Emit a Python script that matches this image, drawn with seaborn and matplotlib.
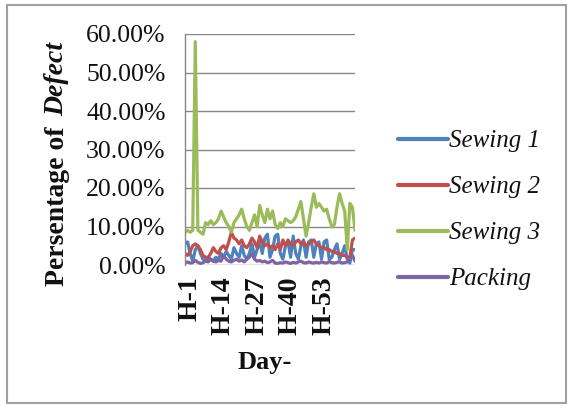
import numpy as np
import pandas as pd
import seaborn as sns
import matplotlib
matplotlib.use("Agg")
import matplotlib.pyplot as plt
import matplotlib.transforms as mtransforms
from matplotlib.patches import Rectangle
from matplotlib.ticker import FuncFormatter

# Daily defect percentages, day H-1 .. H-67
days = [f"H-{i}" for i in range(1, 68)]

sewing_1 = [5.5, 6, 3, 1, 4, 5, 3, 1.5, 1, 2, 1.5, 1, 2, 1.5, 3, 2, 3.5, 2.5, 1.5, 4.5,
            3, 2, 5, 2.5, 1.5, 3, 5.5, 2, 4, 6, 3, 7, 8, 2, 4, 7.5, 8, 3, 1.5, 5,
            6, 2, 7.5, 3, 1.5, 5, 6.5, 2, 6, 6.5, 2, 5.5, 6, 1.5, 6, 6.5, 1.5, 2, 4, 5.5,
            1.5, 3, 5, 1.5, 0.5, 4, 4]
sewing_2 = [3, 2.5, 3.5, 5, 5.5, 5, 4, 2.5, 2, 2, 3, 4.5, 3.5, 3, 4.5, 5, 4, 6, 8.5, 7,
            6.5, 5.5, 6.5, 5, 4.5, 5.5, 7, 6, 4.5, 7.5, 6, 5, 5.5, 4.5, 5, 4, 5.5, 4, 6.5, 5,
            6.5, 5.5, 5, 6, 6.5, 5.5, 6, 5, 5.5, 6, 6.5, 5.5, 5, 4.5, 4.5, 4, 4, 3.5, 3.5, 3,
            3, 2.5, 2.5, 2, 2, 6.5, 7]
sewing_3 = [8.5, 9.0, 8.5, 9.0, 58.0, 9.0, 8.5, 8.0, 11.0, 10.5, 11.5, 10.5, 11.0, 12.0,
            14.0, 12.5, 11.0, 10.0, 8.5, 11.0, 12.0, 13.0, 14.5, 12.0, 10.0, 9.0, 11.0,
            13.0, 10.0, 15.5, 13.0, 11.0, 14.5, 12.0, 14.0, 10.5, 9.5, 11.0, 10.0, 12.0,
            11.5, 11.0, 11.5, 12.5, 14.5, 16.5, 12.0, 7.5, 11.0, 15.0, 18.5, 15.0, 16.0,
            15.0, 14.0, 14.5, 12.0, 10.0, 10.5, 15.0, 18.5, 16.0, 14.0, 4.0, 16.0, 15.0, 9.0]
packing = [0.5, 0.8, 0.5, 0.6, 1.2, 0.7, 0.4, 0.6, 1.0, 0.8, 1.5, 1.0, 0.8, 1.2, 1.0,
           2.5, 1.5, 1.0, 0.8, 1.2, 1.5, 1.0, 1.3, 0.8, 1.5, 2.0, 3.0, 1.5, 1.0, 1.2,
           0.8, 1.0, 0.6, 0.8, 1.2, 0.5, 0.4, 0.6, 0.5, 0.8, 0.6, 0.4, 0.7, 0.5, 0.8,
           1.0, 0.6, 0.5, 0.8, 0.6, 0.5, 0.7, 0.5, 0.8, 0.6, 0.5, 0.9, 0.6, 0.5, 0.7,
           0.8, 0.5, 0.6, 0.8, 1.5, 2.5, 1.0]

series_names = ["Sewing 1", "Sewing 2", "Sewing 3", "Packing"]
series_values = [sewing_1, sewing_2, sewing_3, packing]
colors = ["#4f81bd", "#c0504d", "#9bbb59", "#8064a2"]
tick_days = ["H-1", "H-14", "H-27", "H-40", "H-53"]
y_ticks = [0, 10, 20, 30, 40, 50, 60]

df = pd.concat(
    [pd.DataFrame({"idx": np.arange(len(days)), "day": days, "value": v, "line": n})
     for n, v in zip(series_names, series_values)],
    ignore_index=True,
)

sns.set_theme(style="white")
plt.rcParams["font.family"] = ["Liberation Serif", "DejaVu Serif"]

W, H = 573, 408
fig = plt.figure(figsize=(W / 100, H / 100), dpi=100)
fig.patch.set_facecolor("white")
ax = fig.add_axes([185 / W, 1 - 265 / H, 170 / W, 231 / H])

sns.lineplot(data=df, x="idx", y="value", hue="line", hue_order=series_names,
             palette=colors, linewidth=2.3, ax=ax, legend=True)

ax.set_xlim(0, len(days) - 1)
ax.set_ylim(0, 60)
ax.set_yticks(y_ticks)
ax.yaxis.set_major_formatter(FuncFormatter(lambda v, p: f"{v:.2f}%"))
ax.grid(axis="y", color="#888888", linewidth=1.0)
ax.set_axisbelow(True)
ax.tick_params(axis="y", labelsize=18.5, pad=14, length=0, colors="#111111")
ax.set_xticks([days.index(d) for d in tick_days])
ax.set_xticklabels(tick_days, rotation=90, fontsize=20, fontweight="bold",
                   va="top", ha="center")
ax.tick_params(axis="x", pad=8, length=0, colors="#111111")
shift = mtransforms.ScaledTranslation(5 / 100, 0, fig.dpi_scale_trans)
for lbl in ax.get_xticklabels():
    lbl.set_transform(lbl.get_transform() + shift)
for side in ["top", "right", "bottom"]:
    ax.spines[side].set_visible(False)
ax.spines["left"].set_color("#888888")
ax.spines["left"].set_linewidth(1.0)

ax.set_xlabel("")
ax.set_ylabel("")
fig.text(265 / W, 1 - 362 / H, "Day-", fontsize=19, fontweight="bold",
         ha="center", va="center", color="#111111")

# Y-axis title: bold text followed by a bold-italic word
fig.canvas.draw()
renderer = fig.canvas.get_renderer()
t1 = fig.text(57 / W, 1 - 286 / H, "Persentage of ", fontsize=20, fontweight="bold",
              rotation=90, ha="center", va="bottom", color="#111111")
bb = t1.get_window_extent(renderer)
t2 = fig.text(57 / W, (bb.y1 + 4) / H, "Defect", fontsize=20, fontweight="bold",
              fontstyle="italic", rotation=90, ha="center", va="bottom", color="#111111")

handles, labels = ax.get_legend_handles_labels()
for h in handles:
    h.set_linewidth(3)
leg = ax.legend(handles, labels, loc="center left", bbox_to_anchor=(375 / W, 1 - 210 / H),
                bbox_transform=fig.transFigure, frameon=False, handlelength=2.0,
                handletextpad=0.05, labelspacing=0.94,
                prop={"family": "Liberation Serif", "style": "italic", "size": 18})
for t in leg.get_texts():
    t.set_color("#111111")

fig.patches.append(Rectangle((7 / W, 1 - 403 / H), 559 / W, 398 / H, fill=False,
                             edgecolor="#a0a0a0", linewidth=1.5,
                             transform=fig.transFigure, figure=fig))

fig.savefig("out.png", dpi=100)
